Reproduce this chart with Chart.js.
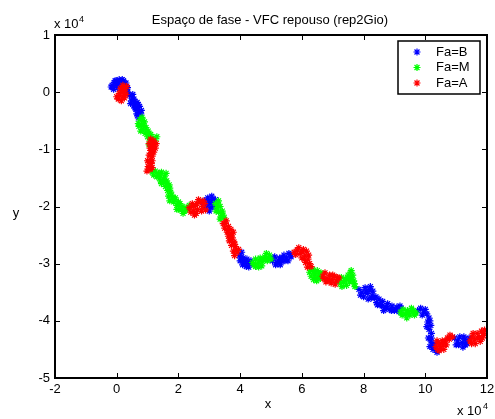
<!DOCTYPE html>
<html>
<head>
<meta charset="utf-8">
<title>Espaço de fase</title>
<script src="https://cdn.jsdelivr.net/npm/chart.js@4.4.1/dist/chart.umd.min.js"></script>
<style>
body { margin: 0; background: #fff; }
#wrap { width: 495px; height: 419px; }
</style>
</head>
<body>
<div id="wrap"><canvas id="fase" width="495" height="419"></canvas></div>
<script>
// tick values (axes are in units of 10^4)
const xTicks = [-2, 0, 2, 4, 6, 8, 10, 12];
const yTicks = [-5, -4, -3, -2, -1, 0, 1];

const seriesNames = ['Fa=B', 'Fa=M', 'Fa=A'];
const seriesColors = ['#0000ff', '#00ff00', '#ff0000'];

// Fa=B
const faB = [
  [-0.15,0.12],[-0.08,0.17],[0.0,0.2],[0.05,0.14],[0.12,0.19],[0.2,0.15],[0.26,0.1],[0.32,0.05],
  [-0.1,0.05],[0.02,0.08],[0.15,0.08],[0.08,0.22],[0.22,0.2],[-0.02,0.13],[0.3,0.16],[0.36,0.0],
  [-0.18,0.09],[0.1,0.12],[0.25,0.04],[-0.05,0.2],[0.18,0.22],[0.35,0.08],
  [0.42,-0.05],[0.5,-0.1],[0.47,-0.15],[0.56,-0.12],[0.6,-0.2],[0.55,-0.24],[0.66,-0.18],[0.68,-0.27],
  [0.62,-0.3],[0.74,-0.25],[0.72,-0.35],[0.65,-0.38],[0.8,-0.32],[0.76,-0.42],[0.7,-0.45],
  [0.45,-0.2],[0.52,-0.04],[0.6,-0.28],[0.7,-0.22],[0.78,-0.38],[0.58,-0.16],[0.68,-0.4],
  [2.85,-1.9],[2.95,-1.85],[3.02,-1.95],[3.08,-1.82],[3.12,-1.92],[2.92,-2.02],[3.0,-2.08],[3.15,-2.0],
  [3.2,-1.88],[2.9,-1.97],[2.82,-2.0],[3.05,-2.02],[3.1,-1.88],[2.98,-1.9],
  [3.98,-2.85],[4.05,-2.8],[4.1,-2.9],[4.0,-2.95],[4.15,-2.98],[4.22,-2.92],[4.3,-3.0],[4.2,-3.05],
  [4.35,-2.95],[4.08,-3.02],[4.02,-2.9],[4.12,-2.95],[4.25,-2.98],[4.28,-3.06],
  [5.05,-2.95],[5.12,-2.88],[5.2,-2.98],[5.28,-2.9],[5.35,-2.96],[5.42,-2.85],[5.5,-2.9],[5.58,-2.82],
  [5.65,-2.88],[5.3,-3.02],[5.15,-3.02],[5.55,-2.95],[5.08,-2.9],[5.25,-2.95],[5.38,-2.9],[5.45,-2.95],
  [5.62,-2.84],
  [7.85,-3.45],[7.95,-3.5],[8.05,-3.42],[8.12,-3.52],[8.2,-3.46],[8.28,-3.55],[8.15,-3.62],[8.35,-3.6],
  [8.42,-3.68],[8.5,-3.62],[8.55,-3.72],[8.62,-3.66],[8.7,-3.76],[8.78,-3.7],[8.85,-3.8],[8.92,-3.74],
  [9.0,-3.82],[9.08,-3.76],[9.15,-3.84],[9.22,-3.78],[8.65,-3.82],[8.3,-3.48],[8.0,-3.58],
  [7.9,-3.55],[8.08,-3.48],[8.25,-3.6],[8.4,-3.58],[8.45,-3.72],[8.6,-3.74],[8.75,-3.78],[8.9,-3.82],
  [9.05,-3.8],[9.18,-3.74],[8.22,-3.4],
  [9.75,-3.82],[9.85,-3.78],[9.95,-3.85],[10.05,-3.88],[10.12,-3.95],[10.08,-4.02],[10.18,-4.08],
  [10.12,-4.15],[10.2,-4.22],[10.1,-4.3],[10.18,-4.35],[10.22,-4.42],[10.3,-4.48],[10.38,-4.55],[10.28,-4.4],
  [9.9,-3.9],[10.0,-3.8],[10.15,-4.0],[10.05,-4.1],[10.2,-4.3],[10.15,-4.45],[10.25,-4.5],[10.35,-4.48],
  [10.95,-4.3],[11.05,-4.35],[11.12,-4.28],[11.2,-4.38],[11.28,-4.32],[11.35,-4.4],[11.42,-4.3],
  [11.22,-4.46],[11.0,-4.42],[11.08,-4.42],[11.25,-4.28],[11.3,-4.42],[11.4,-4.36]
];

// Fa=M
const faM = [
  [0.75,-0.48],[0.82,-0.44],[0.7,-0.55],[0.8,-0.58],[0.9,-0.52],[0.85,-0.65],[0.95,-0.62],[0.78,-0.68],
  [0.92,-0.72],[1.02,-0.68],[1.0,-0.78],[1.1,-0.74],[1.08,-0.84],[1.18,-0.8],[1.25,-0.85],[1.3,-0.78],
  [1.15,-0.9],[1.05,-0.92],[0.72,-0.6],[0.88,-0.58],[0.98,-0.7],[1.12,-0.82],[1.2,-0.88],[0.85,-0.5],
  [1.05,-0.75],
  [1.15,-1.4],[1.25,-1.38],[1.35,-1.42],[1.45,-1.4],[1.3,-1.48],[1.4,-1.5],[1.55,-1.48],[1.5,-1.56],
  [1.62,-1.55],[1.45,-1.6],[1.58,-1.65],[1.7,-1.62],[1.65,-1.72],[1.75,-1.75],[1.68,-1.82],[1.8,-1.85],
  [1.72,-1.9],[1.85,-1.92],[1.9,-1.85],[1.95,-1.98],[2.05,-1.95],[2.0,-2.05],[2.12,-2.0],[2.2,-2.08],
  [2.3,-2.05],[2.15,-2.12],[2.35,-1.98],[1.6,-1.42],
  [1.2,-1.45],[1.38,-1.45],[1.52,-1.52],[1.6,-1.6],[1.72,-1.68],[1.78,-1.8],[1.88,-1.88],[2.0,-1.92],
  [2.1,-2.06],[2.25,-2.02],[1.42,-1.55],[1.95,-2.05],
  [3.2,-1.95],[3.3,-1.9],[3.25,-2.02],[3.35,-2.0],[3.3,-2.1],[3.42,-2.08],[3.38,-2.18],[3.48,-2.2],[3.35,-2.22],
  [3.22,-2.08],[3.4,-2.12],[3.45,-2.15],[3.28,-1.96],
  [4.4,-2.98],[4.5,-2.92],[4.58,-3.0],[4.65,-2.9],[4.72,-2.96],[4.8,-2.88],[4.88,-2.95],[4.95,-2.85],
  [4.7,-3.04],[4.5,-3.05],[5.0,-2.92],[4.85,-2.82],[4.45,-3.02],[4.62,-2.95],[4.78,-2.92],[4.92,-2.9],
  [4.6,-3.06],
  [6.25,-3.15],[6.35,-3.1],[6.3,-3.22],[6.42,-3.18],[6.5,-3.12],[6.55,-3.22],[6.38,-3.28],[6.62,-3.16],
  [6.48,-3.3],[6.6,-3.26],[6.28,-3.08],[6.45,-3.25],[6.58,-3.18],[6.4,-3.14],
  [7.2,-3.3],[7.28,-3.24],[7.35,-3.32],[7.42,-3.26],[7.5,-3.2],[7.58,-3.15],[7.62,-3.25],[7.55,-3.32],
  [7.68,-3.3],[7.45,-3.38],[7.3,-3.4],[7.72,-3.4],[7.6,-3.12],[7.25,-3.35],[7.4,-3.3],[7.52,-3.26],
  [7.65,-3.2],[7.7,-3.35],
  [9.2,-3.85],[9.28,-3.8],[9.35,-3.88],[9.42,-3.82],[9.5,-3.9],[9.58,-3.84],[9.65,-3.9],[9.4,-3.95],
  [9.55,-3.78],[9.7,-3.86],[9.25,-3.9],[9.45,-3.86],[9.62,-3.82]
];

// Fa=A
const faA = [
  [0.2,0.12],[0.28,0.06],[0.15,0.02],[0.25,-0.02],[0.32,0.1],[0.1,-0.06],[0.2,-0.08],[0.05,-0.12],
  [0.15,-0.15],[0.3,-0.04],[0.0,-0.08],[0.12,0.06],[0.22,0.02],[0.08,-0.02],[0.25,-0.1],[0.18,0.08],
  [1.1,-0.82],[1.2,-0.85],[1.28,-0.9],[1.05,-0.9],[1.15,-0.95],[1.25,-0.98],[1.1,-1.02],[1.2,-1.05],
  [1.05,-1.1],[1.15,-1.12],[1.1,-1.18],[1.0,-1.2],[1.12,-1.25],[1.02,-1.3],[1.08,-1.35],[0.98,-1.38],[1.15,-1.32],
  [1.18,-0.9],[1.22,-0.92],[1.08,-0.98],[1.18,-1.0],[1.12,-1.08],[1.05,-1.22],[1.15,-1.2],[1.05,-1.32],
  [2.35,-2.02],[2.45,-1.95],[2.55,-1.98],[2.5,-2.08],[2.62,-2.05],[2.7,-1.92],[2.78,-2.0],[2.65,-1.88],
  [2.85,-1.95],[2.88,-2.06],[2.4,-2.1],[2.58,-2.12],[2.48,-2.0],[2.6,-1.95],[2.75,-2.08],[2.8,-1.9],[2.52,-2.15],
  [3.45,-2.3],[3.55,-2.25],[3.5,-2.38],[3.62,-2.35],[3.7,-2.4],[3.58,-2.45],[3.68,-2.5],[3.78,-2.45],
  [3.75,-2.55],[3.65,-2.6],[3.8,-2.62],[3.72,-2.68],[3.85,-2.7],[3.78,-2.78],[3.9,-2.8],[3.82,-2.86],[3.95,-2.75],
  [3.5,-2.3],[3.6,-2.42],[3.72,-2.48],[3.7,-2.58],[3.82,-2.66],[3.88,-2.76],[3.62,-2.52],
  [5.75,-2.8],[5.85,-2.76],[5.95,-2.82],[6.05,-2.75],[6.1,-2.85],[6.0,-2.9],[6.15,-2.78],[6.2,-2.92],
  [6.12,-2.98],[6.25,-3.0],[6.18,-3.06],[5.9,-2.72],[5.8,-2.84],[6.0,-2.78],[6.08,-2.92],[6.22,-2.85],[6.3,-3.05],
  [6.68,-3.22],[6.75,-3.16],[6.82,-3.26],[6.9,-3.2],[6.98,-3.28],[7.05,-3.22],[7.12,-3.3],[7.2,-3.25],
  [6.95,-3.34],[6.78,-3.32],[7.08,-3.36],[6.72,-3.26],[6.88,-3.3],[7.0,-3.2],[7.15,-3.24],
  [10.35,-4.45],[10.42,-4.38],[10.5,-4.48],[10.45,-4.52],[10.58,-4.42],[10.65,-4.35],[10.72,-4.3],
  [10.8,-4.25],[10.88,-4.28],[10.6,-4.5],[10.38,-4.35],[10.4,-4.5],[10.55,-4.35],[10.68,-4.42],
  [10.78,-4.32],[10.48,-4.42],
  [11.45,-4.35],[11.52,-4.28],[11.6,-4.32],[11.68,-4.22],[11.75,-4.28],[11.82,-4.18],[11.9,-4.22],
  [11.62,-4.4],[11.78,-4.36],[11.85,-4.3],[11.5,-4.4],[11.7,-4.3],[11.88,-4.26],[11.55,-4.22],[11.92,-4.16]
];

const FONT = 'Liberation Sans, Arial, Helvetica, sans-serif';
Chart.defaults.font.family = FONT;
Chart.defaults.font.size = 13;
Chart.defaults.color = '#000';

function star(ctx, x, y, r) {
  const d = r * Math.SQRT1_2;
  ctx.beginPath();
  ctx.moveTo(x - r, y); ctx.lineTo(x + r, y);
  ctx.moveTo(x, y - r); ctx.lineTo(x, y + r);
  ctx.moveTo(x - d, y - d); ctx.lineTo(x + d, y + d);
  ctx.moveTo(x - d, y + d); ctx.lineTo(x + d, y - d);
  ctx.stroke();
}

// box, inward ticks, labels and legend in the matlab look
const decor = {
  id: 'decor',
  afterDraw(chart) {
    const ctx = chart.ctx;
    const a = chart.chartArea;
    const sx = chart.scales.x, sy = chart.scales.y;
    ctx.save();
    ctx.strokeStyle = '#000';
    ctx.lineWidth = 2;
    ctx.strokeRect(a.left, a.top, a.right - a.left, a.bottom - a.top);
    ctx.lineWidth = 1;
    ctx.beginPath();
    xTicks.forEach(v => {
      const px = Math.round(sx.getPixelForValue(v)) + 0.5;
      ctx.moveTo(px, a.bottom); ctx.lineTo(px, a.bottom - 5);
      ctx.moveTo(px, a.top); ctx.lineTo(px, a.top + 5);
    });
    yTicks.forEach(v => {
      const py = Math.round(sy.getPixelForValue(v)) + 0.5;
      ctx.moveTo(a.left, py); ctx.lineTo(a.left + 5, py);
      ctx.moveTo(a.right, py); ctx.lineTo(a.right - 5, py);
    });
    ctx.stroke();

    ctx.fillStyle = '#000';
    ctx.font = '13px ' + FONT;
    ctx.textBaseline = 'alphabetic';
    ctx.textAlign = 'center';
    ctx.fillText('Espaço de fase - VFC repouso (rep2Gio)', 270, 24);
    ctx.fillText('x', 268, 408);
    ctx.fillText('y', 16, 217);

    // exponent labels
    ctx.textAlign = 'left';
    ctx.fillText('x 10', 54, 28);
    ctx.fillText('x 10', 457, 415);
    ctx.font = '9px ' + FONT;
    ctx.fillText('4', 79, 22);
    ctx.fillText('4', 483, 409);

    // legend
    const lx = 398, ly = 41, lw = 82, lh = 53;
    ctx.fillStyle = '#fff';
    ctx.fillRect(lx, ly, lw, lh);
    ctx.lineWidth = 1.5;
    ctx.strokeRect(lx, ly, lw, lh);
    ctx.lineWidth = 1.2;
    ctx.font = '13px ' + FONT;
    ctx.textBaseline = 'middle';
    seriesNames.forEach((name, i) => {
      const ry = 52 + i * 15.5;
      ctx.strokeStyle = seriesColors[i];
      star(ctx, 417, ry, 3.5);
      ctx.fillStyle = '#000';
      ctx.fillText(name, 436, ry);
    });
    ctx.restore();
  }
};

const sets = [faB, faM, faA].map((pts, i) => ({
  label: seriesNames[i],
  data: pts.map(p => ({ x: p[0], y: p[1] })),
  pointStyle: 'star',
  pointRadius: 3.5,
  pointHoverRadius: 3.5,
  borderWidth: 1.2,
  borderColor: seriesColors[i],
  backgroundColor: seriesColors[i],
  order: 2 - i
}));

new Chart(document.getElementById('fase'), {
  type: 'scatter',
  data: { datasets: sets },
  options: {
    responsive: false,
    animation: false,
    devicePixelRatio: 1,
    layout: { padding: { top: 35, right: 8, left: 0, bottom: 0 } },
    plugins: {
      legend: { display: false },
      title: { display: false },
      tooltip: { enabled: false }
    },
    scales: {
      x: {
        min: -2, max: 12,
        grid: { display: false, drawTicks: false },
        border: { display: false },
        ticks: { padding: 4, maxRotation: 0 },
        afterBuildTicks: s => { s.ticks = xTicks.map(v => ({ value: v })); },
        afterFit: s => { s.height = 41; s.paddingLeft = 0; s.paddingRight = 0; }
      },
      y: {
        min: -5, max: 1,
        grid: { display: false, drawTicks: false },
        border: { display: false },
        ticks: { padding: 5 },
        afterBuildTicks: s => { s.ticks = yTicks.map(v => ({ value: v })); },
        afterFit: s => { s.width = 55; s.paddingTop = 0; s.paddingBottom = 0; }
      }
    }
  },
  plugins: [decor]
});
</script>
</body>
</html>
